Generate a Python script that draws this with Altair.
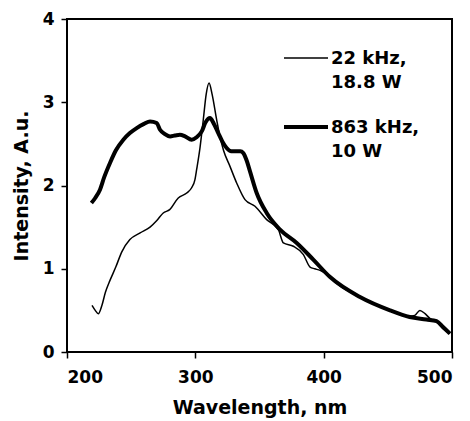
import altair as alt
import pandas as pd

# 22 kHz, 18.8 W (thin line)
wl_22 = [219.5, 222, 224.4, 227, 230, 233.5, 238, 242.6, 249, 257, 264.7, 270, 275, 280,
         286.7, 293.3, 297, 299.7, 301, 303.6, 306.2, 308.5, 310.7, 313, 316.6, 319, 322,
         327, 332.2, 338.7, 346.5, 355.6, 364.7, 368.6, 376.4, 384.2, 389.4, 393, 397.2,
         405, 407.5, 428.3, 451.7, 467, 471, 475, 479, 483, 488, 493, 498.4]
int_22 = [0.56, 0.50, 0.46, 0.55, 0.72, 0.86, 1.02, 1.20, 1.35, 1.43, 1.50, 1.58, 1.67, 1.71,
          1.85, 1.91, 1.97, 2.07, 2.19, 2.45, 2.79, 3.10, 3.23, 3.10, 2.79, 2.60, 2.42,
          2.23, 2.03, 1.83, 1.75, 1.59, 1.47, 1.31, 1.27, 1.17, 1.02, 1.00, 0.98,
          0.90, 0.86, 0.66, 0.50, 0.43, 0.44, 0.50, 0.46, 0.40, 0.36, 0.28, 0.22]

# 863 kHz, 10 W (thick line)
wl_863 = [219, 222, 225.7, 229, 233.5, 238, 243.9, 249, 254.3, 260, 264.7, 269.9, 272.5, 276,
          280.3, 284, 288, 292, 297.1, 301, 305, 308, 311.4, 314.5, 317.9, 321, 324.4, 328,
          332.2, 335, 337.4, 340, 342.6, 347.8, 355.6, 366, 379, 391.9, 405, 428.3, 451.7,
          467, 480, 488, 493, 498.4]
int_863 = [1.79, 1.85, 1.95, 2.10, 2.27, 2.42, 2.55, 2.63, 2.69, 2.74, 2.77, 2.75, 2.67, 2.62,
           2.59, 2.60, 2.61, 2.59, 2.55, 2.58, 2.65, 2.76, 2.81, 2.74, 2.63, 2.53, 2.45, 2.41,
           2.41, 2.41, 2.39, 2.30, 2.17, 1.91, 1.67, 1.47, 1.31, 1.11, 0.90, 0.66, 0.50,
           0.42, 0.39, 0.37, 0.30, 0.22]

series_names = ["22 kHz", "863 kHz"]
x_ticks = [200, 300, 400, 500]
y_ticks = [0, 1, 2, 3, 4]

df = pd.concat([
    pd.DataFrame({"wl": wl_22, "val": int_22, "series": series_names[0]}),
    pd.DataFrame({"wl": wl_863, "val": int_863, "series": series_names[1]}),
])

FONT = "DejaVu Sans"

x = alt.X("wl:Q", scale=alt.Scale(domain=[200, 500], nice=False),
          axis=alt.Axis(values=x_ticks, title="Wavelength, nm", titleY=61,
                        titleBaseline="alphabetic", labelPadding=11))
y = alt.Y("val:Q", scale=alt.Scale(domain=[0, 4], nice=False),
          axis=alt.Axis(values=y_ticks, title="Intensity, A.u.", titleX=-40,
                        titleBaseline="alphabetic", labelPadding=7))

lines = alt.Chart(df).mark_line(color="black", interpolate="monotone").encode(
    x=x, y=y, detail="series:N",
    strokeWidth=alt.StrokeWidth("series:N", scale=alt.Scale(domain=series_names, range=[1.5, 4]),
                                legend=None),
)

one = alt.Data(values=[{"a": 0}])


def leg_rule(ypx, sw):
    return alt.Chart(one).mark_rule(color="black", strokeWidth=sw).encode(
        x=alt.value(217), x2=alt.value(261), y=alt.value(ypx))


def leg_text(txt, ypx):
    return alt.Chart(one).mark_text(align="left", baseline="middle", font=FONT, fontSize=18,
                                    fontWeight="bold", color="black").encode(
        x=alt.value(264), y=alt.value(ypx), text=alt.value(txt))


chart = alt.layer(
    lines,
    leg_rule(39, 1.5), leg_text("22 kHz,", 40), leg_text("18.8 W", 64),
    leg_rule(108, 4), leg_text("863 kHz,", 109), leg_text("10 W", 133),
).properties(
    width=385, height=333,
    autosize=alt.AutoSizeParams(type="none"),
    padding={"left": 59, "top": 11, "right": 10, "bottom": 68},
).configure_view(
    stroke="black", strokeWidth=2
).configure_axis(
    domain=False, grid=False, ticks=True, tickSize=6, tickWidth=1.5, tickColor="black",
    labelFont=FONT, labelFontSize=17, labelFontWeight="bold", labelColor="black",
    titleFont=FONT, titleFontSize=19, titleFontWeight="bold", titleColor="black",
)

chart.save("out.html", embed_options={"renderer": "svg", "actions": False})
